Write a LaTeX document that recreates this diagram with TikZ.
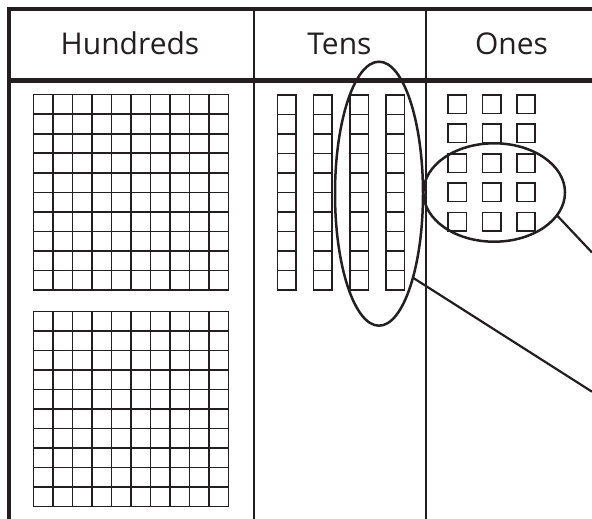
\documentclass[tikz,border=0pt]{standalone}
\usepackage{fontspec}
\setmainfont{Open Sans}
\usetikzlibrary{shapes.geometric}
\definecolor{ink}{HTML}{231F20}
\tikzset{
  frame/.style={draw=ink, line width=4.2pt, line join=miter, line cap=butt},
  divider/.style={draw=ink, line width=2.8pt},
  head/.style={font=\fontsize{30}{36}\selectfont, text=ink, anchor=base, inner sep=0pt},
  cell/.style={draw=ink, line width=1.6pt},
  loop/.style={draw=ink, line width=2.5pt, ellipse, inner sep=0pt, outer sep=0pt},
  pointer/.style={draw=ink, line width=2.2pt},
}
\begin{document}
\begin{tikzpicture}[x=1pt, y=-1pt]
\useasboundingbox (0,0) rectangle (592,519);
% table frame
\draw[frame] (9,519) -- (9,8.7) -- (592,8.7);
\draw[frame] (9,80.5) -- (592,80.5);
\draw[divider] (254,8.7) -- (254,519);
\draw[divider] (426,8.7) -- (426,519);
% headers
\node[head] (hundreds) at (130,55) {Hundreds};
\node[head] (tens) at (339.5,55) {Tens};
\node[head] (ones) at (511.5,55) {Ones};
% hundreds flats
\foreach \top in {94.7,311.4}{
  \foreach \i in {0,...,10}{
    \draw[cell] ({33.4+\i*19.52},\top) -- ({33.4+\i*19.52},{\top+195.2});
    \draw[cell] (33.4,{\top+\i*19.52}) -- (228.6,{\top+\i*19.52});
  }
}
% tens rods
\foreach \x in {277.5,313.5,349.8,385.8}{
  \foreach \j in {0,...,9}{
    \draw[cell] (\x,{95.1+\j*19.5}) rectangle ({\x+18.5},{95.1+\j*19.5+19.5});
  }
}
% ones units
\foreach \x in {448.2,482.6,516.9}{
  \foreach \y in {95.2,124.2,154.2,183.2,212.6}{
    \draw[cell] (\x,\y) rectangle ({\x+18.2},{\y+18.2});
  }
}
% loops
\node[loop, minimum width=88pt, minimum height=264pt] (tensloop) at (379,193.7) {};
\node[loop, minimum width=141.6pt, minimum height=98.4pt] (onesloop) at (494.2,192.5) {};
% pointers
\coordinate (tensend) at (592,391.7);
\coordinate (onesend) at (592,252.5);
\draw[pointer] (tensloop.-68) -- (tensend);
\draw[pointer] (onesloop.-20) -- (onesend);
\end{tikzpicture}
\end{document}
